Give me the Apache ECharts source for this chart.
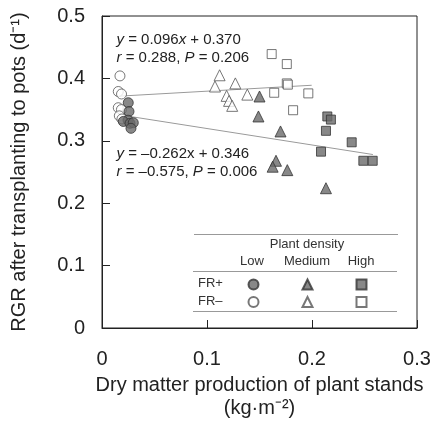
<!DOCTYPE html>
<html>
<head>
<meta charset="utf-8">
<script src="https://cdn.jsdelivr.net/npm/echarts@6/dist/echarts.min.js"></script>
<style>
html, body { margin: 0; background: #fff; }
#chart { width: 439px; height: 431px; }
</style>
</head>
<body>
<div id="chart"></div>
<script>
// [dry matter (kg m-2), RGR (d-1)]
const frPlusLow = [[0.025, 0.361], [0.0257, 0.347], [0.0248, 0.333], [0.0203, 0.331], [0.0267, 0.328], [0.0298, 0.329], [0.0276, 0.320]]
const frPlusMedium = [[0.150, 0.371], [0.149, 0.339], [0.170, 0.315], [0.1657, 0.268], [0.1625, 0.2585], [0.1765, 0.253], [0.2133, 0.224]]
const frPlusHigh = [[0.2146, 0.339], [0.218, 0.334], [0.2133, 0.316], [0.2378, 0.2976], [0.2086, 0.2826], [0.2489, 0.268], [0.2578, 0.268]]
const frMinusLow = [[0.0171, 0.404], [0.0155, 0.379], [0.0186, 0.375], [0.0155, 0.353], [0.0185, 0.350], [0.0165, 0.340], [0.019, 0.335]]
const frMinusMedium = [[0.112, 0.405], [0.127, 0.392], [0.1076, 0.387], [0.1187, 0.372], [0.121, 0.364], [0.124, 0.356], [0.1384, 0.374]]
const frMinusHigh = [[0.1616, 0.439], [0.176, 0.423], [0.176, 0.392], [0.177, 0.390], [0.164, 0.377], [0.1965, 0.376], [0.182, 0.349]]
const fitPlus = [[0.0267, 0.339], [0.258, 0.278]]
const fitMinus = [[0.017, 0.3716], [0.1997, 0.389]]

const xTicks = [0, 0.1, 0.2, 0.3]
const yTicks = [0, 0.1, 0.2, 0.3, 0.4, 0.5]
const densities = ['Low', 'Medium', 'High']
const symbols = ['circle', 'triangle', 'rect']
const sizes = [10, 11, 9]

const font = 'Liberation Sans, Arial, Helvetica, sans-serif'
const filled = { color: '#6a6a6a', borderColor: '#333', borderWidth: 1 }
const open = { color: '#fff', borderColor: '#555', borderWidth: 1 }

const chart = echarts.init(document.getElementById('chart'))

function scatter(name, data, i, style) {
  return {
    name: name,
    type: 'scatter',
    data: data,
    symbol: symbols[i],
    symbolSize: sizes[i],
    itemStyle: style,
    z: 3
  }
}

function fitLine(data) {
  return {
    type: 'line',
    data: data,
    showSymbol: false,
    symbol: 'none',
    silent: true,
    lineStyle: { color: '#9a9a9a', width: 1 },
    z: 2
  }
}

// one legend row per FR treatment, icons only
function legendRow(prefix, top) {
  return {
    data: densities.map(d => prefix + ' ' + d),
    left: 247.5,
    top: top,
    padding: 0,
    itemWidth: 10,
    itemHeight: 10,
    itemGap: 42,
    selectedMode: false,
    formatter: () => '',
    textStyle: { fontSize: 1 }
  }
}

const option = {
  animation: false,
  textStyle: { fontFamily: font },
  grid: {
    left: 102, top: 16, right: 22, bottom: 103,
    show: true, borderColor: '#222', borderWidth: 1
  },
  legend: [legendRow('FR+', 278.5), legendRow('FR–', 296)],
  xAxis: {
    type: 'value',
    min: xTicks[0],
    max: xTicks[xTicks.length - 1],
    interval: 0.1,
    name: 'Dry matter production of plant stands\n(kg·m⁻²)',
    nameLocation: 'middle',
    nameGap: 40,
    nameTextStyle: { fontSize: 20, color: '#222', lineHeight: 23, fontFamily: font },
    axisLine: { lineStyle: { color: '#222' } },
    axisTick: { inside: true, length: 8, lineStyle: { color: '#222' } },
    axisLabel: { fontSize: 20, color: '#222', margin: 21, fontFamily: font, formatter: v => String(v) },
    splitLine: { show: false }
  },
  yAxis: {
    type: 'value',
    min: yTicks[0],
    max: yTicks[yTicks.length - 1],
    interval: 0.1,
    name: 'RGR after transplanting to pots (d⁻¹)',
    nameLocation: 'middle',
    nameGap: 73,
    nameTextStyle: { fontSize: 20, color: '#222', fontFamily: font },
    axisLine: { show: true, lineStyle: { color: '#222' } },
    axisTick: { show: true, inside: true, length: 8, lineStyle: { color: '#222' } },
    axisLabel: { fontSize: 20, color: '#222', margin: 17, fontFamily: font, formatter: v => String(v) },
    splitLine: { show: false }
  },
  graphic: [
    { type: 'line', shape: { x1: 194, y1: 234.5, x2: 398, y2: 234.5 }, style: { stroke: '#999', lineWidth: 1 } },
    { type: 'line', shape: { x1: 193, y1: 271.5, x2: 397, y2: 271.5 }, style: { stroke: '#999', lineWidth: 1 } },
    { type: 'line', shape: { x1: 193, y1: 311.5, x2: 397, y2: 311.5 }, style: { stroke: '#999', lineWidth: 1 } },
    { type: 'text', x: 307, y: 244.5, style: { text: 'Plant density', fontSize: 13, fill: '#333', align: 'center', verticalAlign: 'middle', fontFamily: font } },
    { type: 'text', x: 252, y: 261, style: { text: densities[0], fontSize: 13, fill: '#333', align: 'center', verticalAlign: 'middle', fontFamily: font } },
    { type: 'text', x: 307, y: 261, style: { text: densities[1], fontSize: 13, fill: '#333', align: 'center', verticalAlign: 'middle', fontFamily: font } },
    { type: 'text', x: 361, y: 261, style: { text: densities[2], fontSize: 13, fill: '#333', align: 'center', verticalAlign: 'middle', fontFamily: font } },
    { type: 'text', x: 198, y: 283.5, style: { text: 'FR+', fontSize: 13, fill: '#333', verticalAlign: 'middle', fontFamily: font } },
    { type: 'text', x: 198, y: 301, style: { text: 'FR–', fontSize: 13, fill: '#333', verticalAlign: 'middle', fontFamily: font } },
    {
      type: 'text', x: 116.5, y: 40,
      style: {
        text: '{i|y} = 0.096{i|x} + 0.370', fontSize: 15, fill: '#222', verticalAlign: 'middle', fontFamily: font,
        rich: { i: { fontStyle: 'italic', fontSize: 15, fontFamily: font } }
      }
    },
    {
      type: 'text', x: 116.5, y: 58,
      style: {
        text: '{i|r} = 0.288, {i|P} = 0.206', fontSize: 15, fill: '#222', verticalAlign: 'middle', fontFamily: font,
        rich: { i: { fontStyle: 'italic', fontSize: 15, fontFamily: font } }
      }
    },
    {
      type: 'text', x: 116.5, y: 154,
      style: {
        text: '{i|y} = –0.262x + 0.346', fontSize: 15, fill: '#222', verticalAlign: 'middle', fontFamily: font,
        rich: { i: { fontStyle: 'italic', fontSize: 15, fontFamily: font } }
      }
    },
    {
      type: 'text', x: 116.5, y: 172,
      style: {
        text: '{i|r} = –0.575, {i|P} = 0.006', fontSize: 15, fill: '#222', verticalAlign: 'middle', fontFamily: font,
        rich: { i: { fontStyle: 'italic', fontSize: 15, fontFamily: font } }
      }
    }
  ],
  series: [
    fitLine(fitMinus),
    fitLine(fitPlus),
    scatter('FR– Low', frMinusLow, 0, open),
    scatter('FR– Medium', frMinusMedium, 1, open),
    scatter('FR– High', frMinusHigh, 2, open),
    scatter('FR+ Low', frPlusLow, 0, filled),
    scatter('FR+ Medium', frPlusMedium, 1, filled),
    scatter('FR+ High', frPlusHigh, 2, filled)
  ]
}

chart.setOption(option)

window.addEventListener('resize', () => {
  chart.resize()
})
</script>
</body>
</html>
